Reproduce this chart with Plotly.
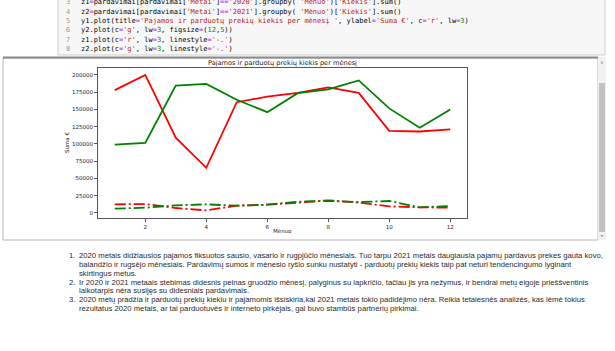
import plotly.graph_objects as go

# ---- data ----
menuo = list(range(1, 13))
y1_pajamos_2020 = [178000, 200000, 109000, 65500, 160500, 168500, 174000, 182000, 174000, 119000, 118000, 121000]
y2_pajamos_2021 = [99000, 101500, 184500, 187000, 164000, 146000, 173500, 179000, 192000, 151500, 123500, 150000]
z1_kiekis_2020 = [12500, 13000, 7200, 3800, 10600, 12000, 15000, 18400, 15000, 9600, 8200, 7700]
z2_kiekis_2021 = [6300, 7700, 11100, 12500, 10600, 12000, 16400, 17400, 15900, 17400, 8200, 10100]
x_ticks = [2, 4, 6, 8, 10, 12]
y_ticks = [0, 25000, 50000, 75000, 100000, 125000, 150000, 175000, 200000]

title_text = "Pajamos ir parduotų prekių kiekis per mėnesį"
ylabel_text = "Suma €"
xlabel_text = "Mėnuo"

W, H = 615, 351
L, R, T, B = 98, 467, 68, 218

fig = go.Figure()
dash = "11px,3px,2px,3px"
fig.add_trace(go.Scatter(x=menuo, y=y1_pajamos_2020, mode="lines", line=dict(color="#ff0000", width=1.8)))
fig.add_trace(go.Scatter(x=menuo, y=y2_pajamos_2021, mode="lines", line=dict(color="#008000", width=1.8)))
fig.add_trace(go.Scatter(x=menuo, y=z1_kiekis_2020, mode="lines", line=dict(color="#ff0000", width=1.8, dash=dash)))
fig.add_trace(go.Scatter(x=menuo, y=z2_kiekis_2021, mode="lines", line=dict(color="#008000", width=1.8, dash=dash)))

def px(x):
    return (x - L) / (R - L)

def py(y):
    return (B - y) / (B - T)

shapes = []
anns = []

# code cell background
shapes.append(dict(type="rect", xref="paper", yref="paper", x0=px(58), x1=px(605), y0=py(55), y1=py(-2),
                   fillcolor="#f7f7f7", line=dict(color="#cfcfcf", width=1), layer="below"))
# output area box
shapes.append(dict(type="rect", xref="paper", yref="paper", x0=px(3), x1=px(598), y0=py(240), y1=py(58),
                   fillcolor="rgba(0,0,0,0)", line=dict(color="#b5b5b5", width=1), layer="below"))
# top shadow line of output
shapes.append(dict(type="line", xref="paper", yref="paper", x0=px(3), x1=px(598), y0=py(57.5), y1=py(57.5),
                   line=dict(color="#8a8a8a", width=2)))
# scrollbar
shapes.append(dict(type="rect", xref="paper", yref="paper", x0=px(598), x1=px(606), y0=py(240), y1=py(57),
                   fillcolor="#f1f1f1", line=dict(width=0), layer="below"))
shapes.append(dict(type="rect", xref="paper", yref="paper", x0=px(599), x1=px(605), y0=py(232), y1=py(83),
                   fillcolor="#c1c1c1", line=dict(width=0), layer="below"))
shapes.append(dict(type="path", xref="paper", yref="paper",
                   path=f"M {px(600.5)} {py(63.5)} L {px(603.5)} {py(63.5)} L {px(602)} {py(61)} Z",
                   fillcolor="#a3a3a3", line=dict(width=0)))
shapes.append(dict(type="path", xref="paper", yref="paper",
                   path=f"M {px(600.5)} {py(235)} L {px(603.5)} {py(235)} L {px(602)} {py(237.5)} Z",
                   fillcolor="#a3a3a3", line=dict(width=0)))

# code lines
S = "#ba2121"  # strings
N = "#008800"  # numbers
O = "#aa22ff"  # operators
def s(t):
    return f"<span style='color:{S}'>{t}</span>"
def n(t):
    return f"<span style='color:{N}'>{t}</span>"
EQ = f"<span style='color:{O}'>=</span>"
q = chr(39)

code_lines = [
    (3, f"z1{EQ}pardavimai[pardavimai[{s(q+'Metai'+q)}]{EQ}{EQ}{s(q+'2020'+q)}].groupby( {s(q+'Mėnuo'+q)})[{s(q+'Kiekis'+q)}].sum()"),
    (4, f"z2{EQ}pardavimai[pardavimai[{s(q+'Metai'+q)}]{EQ}{EQ}{s(q+'2021'+q)}].groupby( {s(q+'Mėnuo'+q)})[{s(q+'Kiekis'+q)}].sum()"),
    (5, f"y1.plot(title{EQ}{s(q+'Pajamos ir parduotų prekių kiekis per mėnesį '+q)}, ylabel{EQ}{s(q+'Suma €'+q)}, c{EQ}{s(q+'r'+q)}, lw{EQ}{n('3')})"),
    (6, f"y2.plot(c{EQ}{s(q+'g'+q)}, lw{EQ}{n('3')}, figsize{EQ}({n('12')},{n('5')}))"),
    (7, f"z1.plot(c{EQ}{s(q+'r'+q)}, lw{EQ}{n('3')}, linestyle{EQ}{s(q+'-.'+q)})"),
    (8, f"z2.plot(c{EQ}{s(q+'g'+q)}, lw{EQ}{n('3')}, linestyle{EQ}{s(q+'-.'+q)})"),
]
code_y = [2.5, 11.8, 21, 30.2, 39.6, 49]
for (num, txt), yy in zip(code_lines, code_y):
    anns.append(dict(xref="paper", yref="paper", x=px(72), y=py(yy), text=str(num), showarrow=False,
                     xanchor="right", yanchor="middle", font=dict(family="DejaVu Sans Mono", size=7, color="#999999")))
    anns.append(dict(xref="paper", yref="paper", x=px(79), y=py(yy), text=txt, showarrow=False,
                     xanchor="left", yanchor="middle", font=dict(family="DejaVu Sans Mono", size=7, color="#000000")))

# chart title and axis labels
anns.append(dict(xref="paper", yref="paper", x=0.5, y=py(62.5), text=title_text, showarrow=False,
                 xanchor="center", yanchor="middle", font=dict(family="DejaVu Sans", size=6.6, color="#222222")))
anns.append(dict(xref="paper", yref="paper", x=px(67), y=0.5, text=ylabel_text, showarrow=False, textangle=-90,
                 xanchor="center", yanchor="middle", font=dict(family="DejaVu Sans", size=5.5, color="#222222")))
anns.append(dict(xref="paper", yref="paper", x=0.5, y=py(231), text=xlabel_text, showarrow=False,
                 xanchor="center", yanchor="middle", font=dict(family="DejaVu Sans", size=5.5, color="#222222")))

# markdown list
list_lines = [
    ("1.", "2020 metais didžiausios pajamos fiksuotos sausio, vasario ir rugpjūčio mėnesiais. Tuo tarpu 2021 metais daugiausia pajamų pardavus prekes gauta kovo,"),
    ("", "balandžio ir rugsėjo mėnesiais. Pardavimų sumos ir mėnesio ryšio sunku nustatyti - parduotų prekių kiekis taip pat neturi tendencingumo lyginant"),
    ("", "skirtingus metus."),
    ("2.", "Ir 2020 ir 2021 metaais stebimas didesnis pelnas gruodžio mėnesį, palyginus su lapkričio, tačiau jis yra nežymus, ir bendrai metų eigoje prieššventinis"),
    ("", "laikotarpis nėra susijęs su didesniais pardavimais."),
    ("3.", "2020 metų pradžia ir parduotų prekių kiekiu ir pajamomis išsiskiria,kai 2021 metais tokio padidėjimo nėra. Reikia tetalesnės analizės, kas lėmė tokius"),
    ("", "rezultatus 2020 metais, ar tai parduotuvės ir interneto pirkėjais, gal buvo stambūs partnerių pirkimai."),
]
list_y = [255, 264, 273, 282, 290.5, 299.5, 308.5]
for (num, txt), yy in zip(list_lines, list_y):
    if num:
        anns.append(dict(xref="paper", yref="paper", x=px(76.5), y=py(yy), text=num, showarrow=False,
                         xanchor="right", yanchor="middle", font=dict(family="Liberation Sans", size=7.7, color="#2a2a2a")))
    anns.append(dict(xref="paper", yref="paper", x=px(77), y=py(yy), text=txt, showarrow=False,
                     xanchor="left", yanchor="middle", font=dict(family="Liberation Sans", size=7.7, color="#2a2a2a")))

axis_common = dict(showgrid=False, zeroline=False, showline=True, mirror=True, linecolor="#555555", linewidth=1,
                   ticks="outside", ticklen=3, tickwidth=0.8, tickcolor="#555555",
                   tickfont=dict(family="DejaVu Sans", size=5.5, color="#222222"))

fig.update_layout(
    width=W, height=H,
    margin=dict(l=L, r=W - R, t=T, b=H - B),
    paper_bgcolor="white", plot_bgcolor="white",
    showlegend=False,
    xaxis=dict(range=[0.45, 12.55], tickvals=x_ticks, **axis_common),
    yaxis=dict(range=[-7250, 210000], tickvals=y_ticks, tickformat="d", **axis_common),
    shapes=shapes, annotations=anns,
)

fig.write_html("out.html")
